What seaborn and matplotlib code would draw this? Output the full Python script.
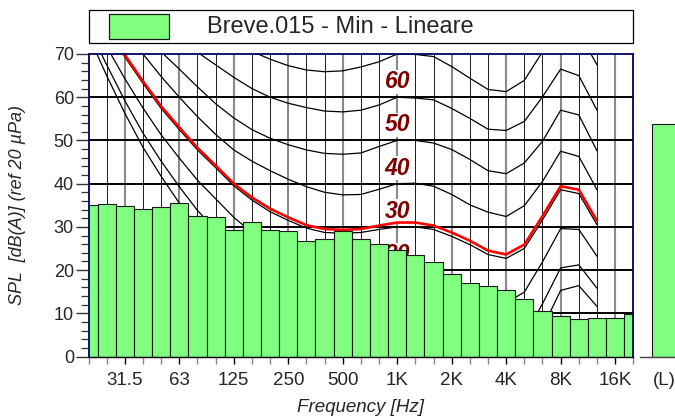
import numpy as np
import pandas as pd
import matplotlib
matplotlib.use("Agg")
import matplotlib.pyplot as plt
from matplotlib.patches import Rectangle
import seaborn as sns

# One-third octave bands, 20 Hz - 20 kHz
bands = ["20", "25", "31.5", "40", "50", "63", "80", "100", "125", "160",
         "200", "250", "315", "400", "500", "630", "800", "1K", "1.25K", "1.6K",
         "2K", "2.5K", "3.15K", "4K", "5K", "6.3K", "8K", "10K", "12.5K", "16K", "20K"]

# Measured band levels, dB(A)
spl = [35.1, 35.2, 34.8, 34.2, 34.7, 35.6, 32.6, 32.3, 29.3, 31.2,
       29.2, 29.1, 26.7, 27.1, 29.1, 27.1, 26.0, 24.7, 23.6, 21.9,
       19.2, 16.9, 16.2, 15.3, 13.2, 10.5, 9.4, 8.7, 8.8, 9.0, 9.9]
overall_label = "(L)"
overall = 53.8

# Equal-loudness contours (20 Hz - 12.5 kHz), dB SPL
phon_70 = [100, 96, 92, 88, 85, 82, 79.5, 75.8, 73.0, 70.6, 68.8, 67.3, 66.3, 65.9, 66.1,
           67.0, 68.2, 70.0, 69.9, 69.4, 67.1, 64.4, 61.8, 61.3, 63.9, 70.5, 76.0, 75.0, 67.5]
phon_60 = [95, 90, 85, 81, 77.5, 73.8, 70.4, 67.5, 64.6, 62.0, 60.0, 58.6, 57.6, 56.8, 56.6,
           57.0, 58.2, 60.0, 59.8, 59.4, 57.4, 55.1, 52.6, 52.3, 54.4, 60.1, 66.5, 65.0, 57.0]
phon_50 = [88, 83, 78.5, 74.3, 70.5, 66.5, 62.4, 58.5, 55.2, 52.5, 50.5, 49.0, 47.8, 47.0, 46.8,
           47.1, 48.6, 50.0, 50.0, 49.4, 47.9, 45.6, 43.0, 42.3, 44.8, 49.8, 57.0, 55.9, 47.6]
phon_40 = [84, 79.5, 75.0, 70.0, 64.8, 60.0, 55.5, 51.4, 47.8, 45.2, 43.0, 41.0, 39.3, 38.0, 37.4,
           37.5, 38.7, 40.0, 40.1, 39.4, 37.5, 35.1, 33.4, 32.4, 34.9, 40.5, 47.5, 46.3, 38.6]
phon_30 = [82.5, 76.0, 69.3, 63.2, 57.4, 52.5, 47.8, 43.7, 39.5, 36.2, 33.5, 31.5, 29.7, 28.7, 28.5,
           28.7, 29.4, 30.0, 30.0, 29.4, 27.8, 25.9, 23.6, 22.7, 25.0, 31.6, 38.6, 37.7, 30.5]
phon_20 = [79.3, 71.7, 64.3, 57.5, 51.3, 45.9, 40.8, 36.5, 32.2, 28.7, 25.9, 23.6, 21.6, 20.4, 19.8,
           19.5, 19.7, 20.0, 19.8, 19.0, 17.4, 15.4, 13.0, 12.4, 14.9, 21.9, 29.6, 29.4, 23.2]
phon_10 = [76.1, 67.5, 59.2, 51.7, 45.2, 39.3, 33.8, 29.3, 24.9, 21.2, 18.2, 15.8, 13.6, 12.0, 11.1,
           10.3, 10.0, 10.0, 9.6, 8.6, 7.0, 4.9, 2.5, 2.1, 4.8, 12.2, 20.5, 21.2, 15.8]
threshold = [74.3, 65.0, 56.3, 48.4, 41.7, 35.5, 29.8, 25.1, 20.7, 16.8, 13.8, 11.2, 8.9, 7.2, 6.0,
             5.0, 4.4, 4.2, 3.7, 2.6, 1.0, -1.2, -3.6, -3.9, -1.1, 6.6, 15.3, 16.4, 11.6]
# Loudness level of the spectrum
loudness_curve = [83.0, 76.5, 69.8, 63.7, 57.9, 53.0, 48.3, 44.2, 40.0, 36.8, 34.2, 32.2, 30.4, 29.5, 29.3,
                  29.5, 30.3, 31.0, 31.0, 30.3, 28.7, 26.8, 24.5, 23.6, 25.9, 32.5, 39.4, 38.6, 31.4]

contour_tags = [60, 50, 40, 30, 20]
major_labels = ["31.5", "63", "125", "250", "500", "1K", "2K", "4K", "8K", "16K"]
title_text = "Breve.015 - Min - Lineare"

GREEN = "#80FF80"
NAVY = "#000066"
TAG_RED = "#800000"

sns.set_theme(style="white")
plt.rcParams["font.family"] = ["Liberation Sans", "DejaVu Sans"]

W, H = 675, 417
fig = plt.figure(figsize=(W / 100, H / 100), dpi=100)


def box(l, t, r, b):
    return [l / W, 1 - b / H, (r - l) / W, (b - t) / H]


ax = fig.add_axes(box(88.5, 54, 633.3, 356.5))
pos = np.arange(len(bands))
df = pd.DataFrame({"pos": pos, "spl": spl})

# vertical band grid
for i in range(1, len(bands) - 1):
    if i in range(2, 30, 3):
        ax.axvline(i, color="#8a8a8a", lw=1.5, zorder=0.5)
    else:
        ax.axvline(i, color="#1a1a1a", lw=0.7, zorder=0.5)
for y in range(10, 70, 10):
    ax.axhline(y, color="black", lw=1.4, zorder=0.8)

cpos = pos[:len(threshold)]
for curve in [phon_70, phon_60, phon_50, phon_40, phon_30, phon_20, phon_10, threshold]:
    sns.lineplot(x=cpos, y=curve, color="black", linewidth=0.9, ax=ax, zorder=1.5, estimator=None)
sns.lineplot(x=cpos, y=loudness_curve, color="#FF0000", linewidth=1.9, ax=ax, zorder=1.8, estimator=None)

k1 = bands.index("1K")
for lev in contour_tags:
    ax.text(k1, lev + 3.6, str(lev), color=TAG_RED, fontsize=16.5, fontweight="bold",
            fontstyle="italic", ha="center", va="center", zorder=1.6,
            bbox=dict(fc="white", ec="none", pad=0.3), clip_on=True)

sns.barplot(data=df, x="pos", y="spl", native_scale=True, width=1.0, color=GREEN,
            saturation=1, edgecolor="#1a1a1a", linewidth=0.8, ax=ax, zorder=3)

ax.set_xlim(0, len(bands) - 1)
ax.set_ylim(0, 70)

major_pos = [bands.index(b) for b in major_labels]
minor_pos = [i for i in range(len(bands)) if i not in major_pos]
ax.set_xticks(major_pos)
ax.set_xticklabels(major_labels, fontsize=13.5)
ax.set_xticks(minor_pos, minor=True)
ax.tick_params(axis="x", which="major", direction="out", length=5.2, width=1.0,
               color="black", pad=6, bottom=True)
ax.tick_params(axis="x", which="minor", direction="out", length=5.2, width=1.0,
               color="#888888", bottom=True)
ax.set_yticks(range(0, 71, 10))
ax.set_yticklabels([str(v) for v in range(0, 71, 10)], fontsize=13)
ax.set_yticks(range(0, 71, 2), minor=True)
ax.tick_params(axis="y", which="major", direction="out", length=9.5, width=1.0,
               color="#333333", pad=1.0, left=True)
ax.tick_params(axis="y", which="minor", direction="out", length=5.5, width=0.9,
               color="#333333", left=True)

for s in ["left", "top", "right"]:
    ax.spines[s].set_color(NAVY)
    ax.spines[s].set_linewidth(1.3)
ax.spines["bottom"].set_color("black")
ax.spines["bottom"].set_linewidth(1.0)
for s in ax.spines.values():
    s.set_zorder(5)

ax.set_xlabel("Frequency [Hz]", fontsize=13.5, fontstyle="italic")
ax.xaxis.set_label_coords(0.5, (356.5 - 407) / 302.5)
ax.xaxis.label.set_va("center")
ax.set_ylabel("SPL  [dB(A)] (ref 20 \u00b5Pa)", fontsize=13, fontstyle="italic")
ax.yaxis.set_label_coords((17.5 - 88.5) / 544.8, 0.5)
ax.yaxis.label.set_va("center")

# overall level bar
axL = fig.add_axes(box(640, 54, 684, 356.5))
sns.barplot(x=[overall_label], y=[overall], width=1.0, color=GREEN, saturation=1,
            edgecolor="#1a1a1a", linewidth=0.8, ax=axL)
axL.set_xlim(-1.0, 0.8333)
axL.set_ylim(0, 70)
axL.set_yticks([])
axL.set_xlabel("")
axL.set_ylabel("")
for s in ["left", "top", "right"]:
    axL.spines[s].set_visible(False)
axL.spines["bottom"].set_color("#444444")
axL.spines["bottom"].set_linewidth(1.0)
axL.tick_params(axis="x", length=0, pad=11.2, labelsize=13.5)

# header box
fig.add_artist(Rectangle((88.5 / W, 1 - 43.3 / H), (633.3 - 88.5) / W, 33.3 / H,
                         transform=fig.transFigure, fc="white", ec="black", lw=0.9))
fig.add_artist(Rectangle((109.3 / W, 1 - 39.3 / H), 60 / W, 25.3 / H,
                         transform=fig.transFigure, fc=GREEN, ec="#1a1a1a", lw=0.9))
fig.text(207 / W, 1 - 26.7 / H, title_text, fontsize=17, ha="left", va="center")

fig.savefig("out.png", dpi=100)
